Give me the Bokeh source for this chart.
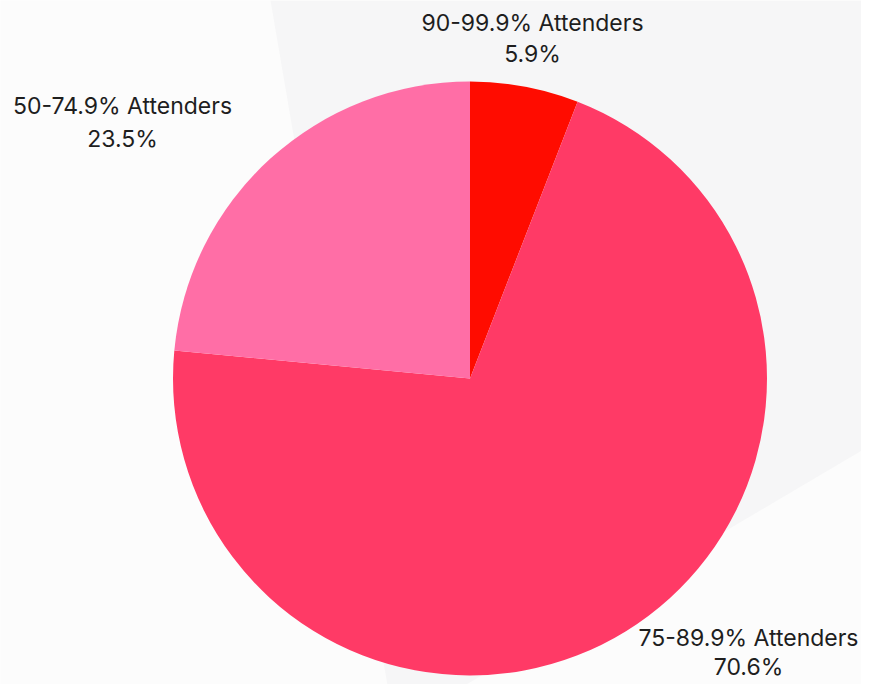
import numpy as np
from bokeh.plotting import figure
from bokeh.models import Range1d, ColumnDataSource
from bokeh.core.properties import value
from bokeh.embed import file_html
from bokeh.resources import INLINE

# ---- data ----
categories = ["90-99.9% Attenders", "75-89.9% Attenders", "50-74.9% Attenders"]
percentages = [5.9, 70.6, 23.5]
colors = ["#FF0C00", "#FF3A66", "#FF6EA6"]

# ---- layout (screen px from the top-left of the picture) ----
W, H = 861, 684
def sy(y):  # screen y -> data y
    return H - y

p = figure(width=W, height=H, output_backend="svg", toolbar_location=None,
           x_range=Range1d(0, W), y_range=Range1d(0, H),
           min_border=0)
p.axis.visible = False
p.grid.visible = False
p.outline_line_color = None
p.background_fill_color = "#FCFCFC"
p.border_fill_color = "#FCFCFC"

# subtle background shape
bx = [270, 900, 900, 405, 393]
by = [0, 0, 427, 720, 720]
p.patch(bx, [sy(v) for v in by], fill_color="#F6F6F7", line_color=None)

# pie
cx, cy, r = 469.5, 378, 297
frac = np.array(percentages) / sum(percentages)
cum = np.concatenate([[0], np.cumsum(frac)])
start = np.pi / 2 - cum[:-1] * 2 * np.pi
end = np.pi / 2 - cum[1:] * 2 * np.pi
src = ColumnDataSource(dict(start=start, end=end, color=colors))
p.wedge(x=cx, y=sy(cy), radius=r, start_angle="start", end_angle="end",
        direction="clock", fill_color="color", line_color=None, source=src)

# labels
label_pos = [(532, 22, 53), (748, 637, 666), (122, 105, 138)]
for cat, pct, (lx, y1, y2) in zip(categories, percentages, label_pos):
    p.text(x=[lx], y=[sy(y1)], text=[cat], text_font=value("Inter"),
           text_font_size="23px", text_align="center", text_baseline="middle",
           text_color="#1E1E1E")
    p.text(x=[lx], y=[sy(y2)], text=[f"{pct}%"], text_font=value("Inter"),
           text_font_size="23px", text_align="center", text_baseline="middle",
           text_color="#1E1E1E")

open("out.html", "w").write(file_html(p, INLINE))
